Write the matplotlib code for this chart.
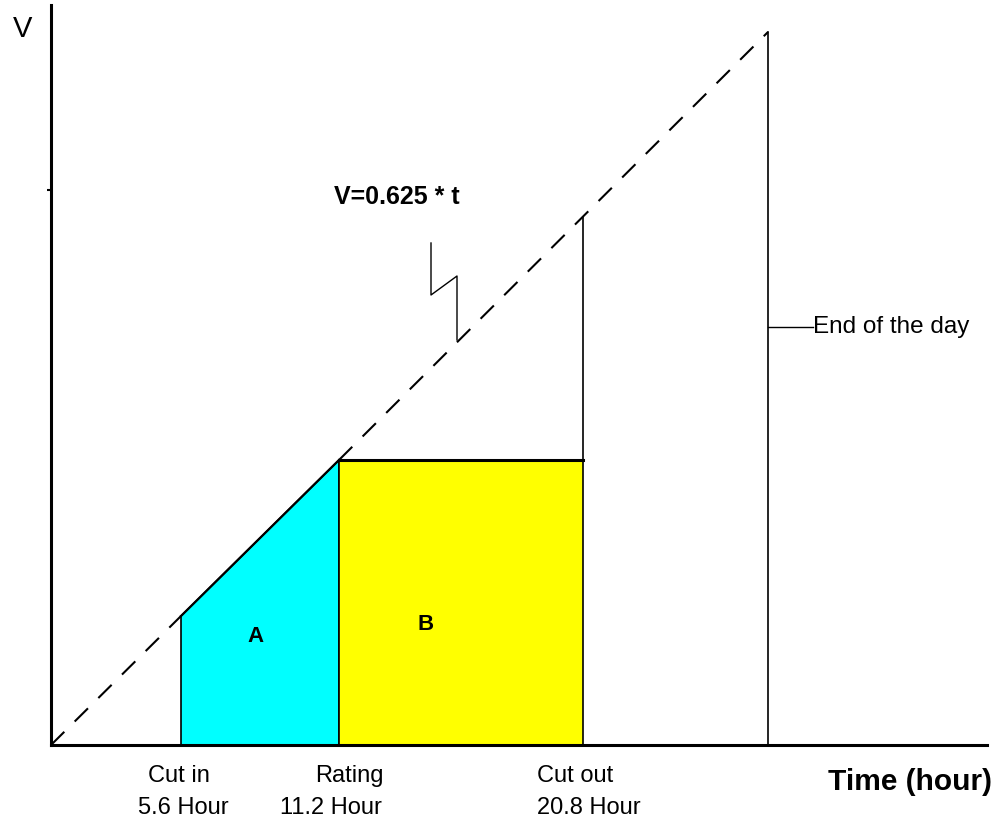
import matplotlib
matplotlib.use("Agg")
import matplotlib.pyplot as plt
from matplotlib.patches import Polygon

plt.rcParams['font.family'] = ['Liberation Sans', 'DejaVu Sans']

# schematic drawing units (axes origin = 0,0), chart is not to scale
t_marks = [130, 288, 532, 717]          # cut in, rating, cut out, end of day
t_names = ["Cut in", "Rating", "Cut out"]
t_hours = ["5.6 Hour", "11.2 Hour", "20.8 Hour"]
v_cut_in = 129
v_rated = 285
v_cut_out_top = 528
v_end_top = 713
v_tick = 555
# lightning bolt pointer to the V=0.625*t line
bolt_t = [380, 380, 406, 406]
bolt_v = [502, 450, 469, 405]

fig = plt.figure(figsize=(10, 8.27), dpi=100)
ax = fig.add_axes([0.051, (827 - 745) / 827, 0.936, 740 / 827])
ax.set_xlim(0, 936)
ax.set_ylim(0, 740)

for s in ["top", "right"]:
    ax.spines[s].set_visible(False)
ax.spines["left"].set_linewidth(2.2)
ax.spines["bottom"].set_linewidth(2.2)
ax.set_xticks([])
ax.set_yticks([v_tick])
ax.set_yticklabels([])
ax.tick_params(axis="y", length=3, width=1.5, direction="out")

t_in, t_rate, t_out, t_end = t_marks

# dashed V = 0.625 * t line (hidden behind region A)
ax.plot([0, t_in], [0, v_cut_in], color="black", lw=1.5, dashes=(9, 7), zorder=1)
ax.plot([t_rate, t_end], [v_rated, v_end_top], color="black", lw=1.5,
        dashes=(9, 7), zorder=1)

# region A (cyan) and B (yellow)
a_poly = Polygon([(t_in, 0), (t_in, v_cut_in), (t_rate, v_rated), (t_rate, 0)],
                 closed=True, facecolor="#00ffff", edgecolor="black", lw=1.2, zorder=2)
b_poly = Polygon([(t_rate, 0), (t_rate, v_rated), (t_out, v_rated), (t_out, 0)],
                 closed=True, facecolor="#ffff00", edgecolor="black", lw=1.2, zorder=2)
ax.add_patch(a_poly)
ax.add_patch(b_poly)
ax.plot([t_in, t_rate], [v_cut_in, v_rated], color="black", lw=1.6, zorder=3)
ax.plot([t_rate, t_out], [v_rated, v_rated], color="black", lw=2.2, zorder=3)

# cut out and end-of-day verticals
ax.plot([t_out, t_out], [v_rated, v_cut_out_top], color="black", lw=1.2, zorder=3)
ax.plot([t_end, t_end], [0, v_end_top], color="black", lw=1.2, zorder=3)
ax.plot([t_end, t_end + 45], [418, 418], color="black", lw=1.0)
ax.text(t_end + 45, 418, "End of the day", fontsize=17.5, va="center", ha="left")

# lightning pointer + equation
ax.plot(bolt_t, bolt_v, color="black", lw=1.0)
ax.text(346, 548, "V=0.625 * t", fontsize=18, fontweight="bold",
        ha="center", va="center")

ax.text(204, 109, "A", fontsize=16, fontweight="bold", ha="center", va="center")
ax.text(375, 121, "B", fontsize=16, fontweight="bold", ha="center", va="center")

# labels below the axis
name_dx = [-2, 10, -8]
hour_dx = [2, -8, 6]
for t, name, hour, dn, dh in zip(t_marks[:3], t_names, t_hours, name_dx, hour_dx):
    ax.text(t + dn, -31, name, fontsize=17, ha="center", va="center", clip_on=False)
    ax.text(t + dh, -63, hour, fontsize=17, ha="center", va="center", clip_on=False)

ax.text(777, -37, "Time (hour)", fontsize=21.5, fontweight="bold",
        ha="left", va="center", clip_on=False)
ax.text(-28, 716, "V", fontsize=21, ha="center", va="center", clip_on=False)

fig.savefig("out.png", dpi=100)
